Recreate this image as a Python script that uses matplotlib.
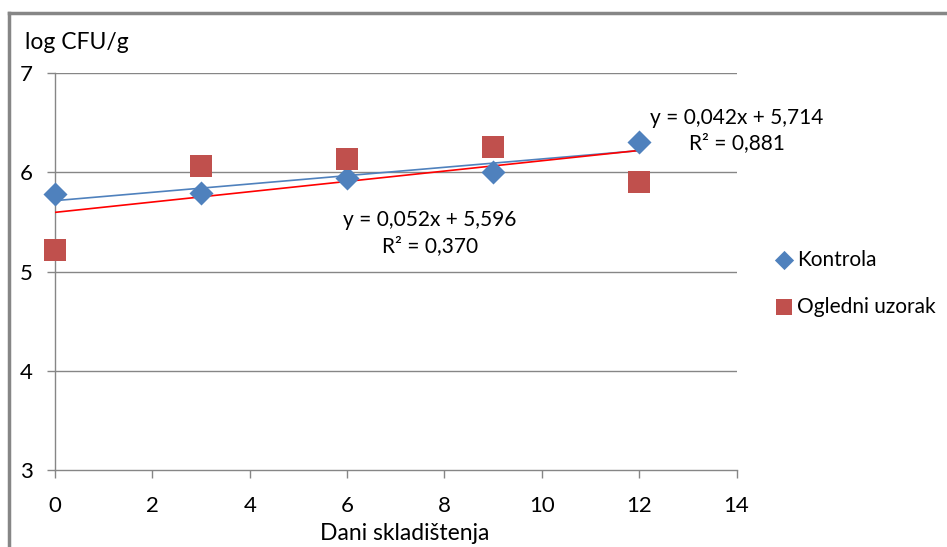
import matplotlib
matplotlib.use("Agg")
import matplotlib.pyplot as plt
import numpy as np

plt.rcParams['font.family'] = ['Lato', 'DejaVu Sans']

days = [0, 3, 6, 9, 12]
kontrola = [5.78, 5.79, 5.94, 6.00, 6.30]
ogledni = [5.22, 6.06, 6.13, 6.25, 5.90]
fit_kontrola = (0.042, 5.714)
fit_ogledni = (0.052, 5.596)
eq_kontrola = "y = 0,042x + 5,714\nR² = 0,881"
eq_ogledni = "y = 0,052x + 5,596\nR² = 0,370"

blue = "#4f81bd"
red = "#c0504d"
grey = "#868686"
fs = 15

fig = plt.figure(figsize=(9.47, 5.47), dpi=100)
ax = fig.add_axes([0.0581, 0.1408, 0.7197, 0.7257])

# outer chart frame (left and top edges visible)
fig.add_artist(plt.Line2D([0.0095, 0.0095], [0, 0.976], color=grey, lw=2.5,
                          transform=fig.transFigure))
fig.add_artist(plt.Line2D([0.0095, 1.0], [0.976, 0.976], color=grey, lw=2.5,
                          transform=fig.transFigure))

xs = np.array([days[0], days[-1]])
ax.plot(xs, fit_kontrola[0] * xs + fit_kontrola[1], color=blue, lw=1.2, zorder=3)
ax.plot(xs, fit_ogledni[0] * xs + fit_ogledni[1], color="#ff0000", lw=1.2, zorder=3)
ax.scatter(days, kontrola, marker="D", s=150, color=blue, label="Kontrola", zorder=4,
           linewidths=0, clip_on=False)
ax.scatter(days, ogledni, marker="s", s=230, color=red, label="Ogledni uzorak", zorder=4,
           linewidths=0, clip_on=False)

ax.text(14.0, 6.42, eq_kontrola, ha="center", va="center", fontsize=fs,
        linespacing=1.35)
ax.text(7.7, 5.39, eq_ogledni, ha="center", va="center", fontsize=fs,
        linespacing=1.35)

ax.set_xlim(0, 14)
ax.set_ylim(3, 7)
ax.set_xticks(range(0, 15, 2))
ax.set_yticks(range(3, 8))
for y in [4, 5, 6, 7]:
    ax.axhline(y, color=grey, lw=1, zorder=1)
for s in ["top", "right"]:
    ax.spines[s].set_visible(False)
for s in ["left", "bottom"]:
    ax.spines[s].set_color(grey)
    ax.spines[s].set_linewidth(1)
ax.tick_params(axis="both", colors=grey, labelcolor="black", labelsize=16,
               length=6, width=1)
ax.tick_params(axis="x", pad=13)
ax.tick_params(axis="y", pad=10)

fig.text(0.026, 0.923, "log CFU/g", fontsize=16.5, ha="left", va="center")
fig.text(0.427, 0.025, "Dani skladištenja", fontsize=16.5, ha="center", va="center")

ax.legend(loc="center left", bbox_to_anchor=(1.0425, 0.47), frameon=False, fontsize=fs,
          handletextpad=0.1, labelspacing=1.3, borderaxespad=0, handlelength=1.0,
          scatterpoints=1, markerscale=0.8)

fig.savefig("out.png", dpi=100)
